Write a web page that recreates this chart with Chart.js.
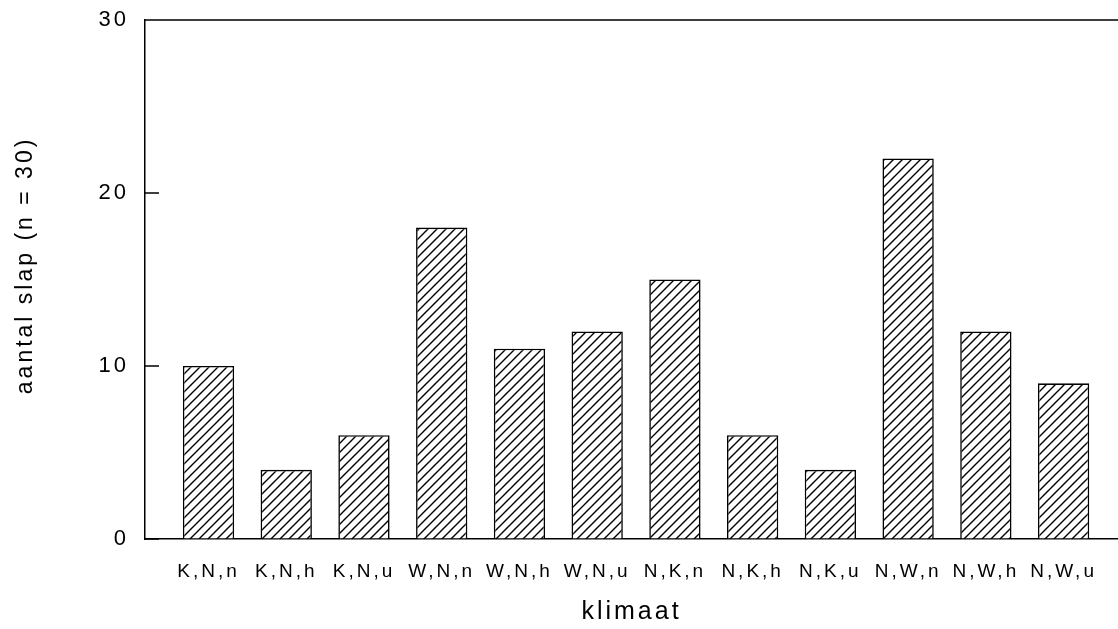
<!DOCTYPE html>
<html><head><meta charset="utf-8">
<script src="https://cdn.jsdelivr.net/npm/chart.js@4"></script>
<style>html,body{margin:0;padding:0;background:#fff}#wrap{width:1118px;height:629px}</style>
</head><body><div id="wrap"><canvas id="c" width="1118" height="629"></canvas></div>
<script>
const categories = ['K,N,n','K,N,h','K,N,u','W,N,n','W,N,h','W,N,u','N,K,n','N,K,h','N,K,u','N,W,n','N,W,h','N,W,u'];
const counts = [10,4,6,18,11,12,15,6,4,22,12,9];
const yTicks = [0,10,20,30];
const xTitle = 'klimaat';
const yTitle = '   aantal slap (n = 30)';

const canvas = document.getElementById('c');
const mainCtx = canvas.getContext('2d');
function hatch(){
  const s = 9;
  const c = document.createElement('canvas'); c.width = s; c.height = s;
  const g = c.getContext('2d');
  g.fillStyle = '#fff'; g.fillRect(0,0,s,s);
  g.strokeStyle = '#000'; g.lineWidth = 1.4;
  g.beginPath();
  g.moveTo(-1, s+1); g.lineTo(s+1, -1);
  g.moveTo(-1, 1); g.lineTo(1, -1);
  g.moveTo(s-1, s+1); g.lineTo(s+1, s-1);
  g.stroke();
  return mainCtx.createPattern(c, 'repeat');
}
const spacing = {
  id: 'spacing',
  beforeUpdate(chart){ chart.ctx.letterSpacing = '3px'; },
  beforeDraw(chart){ chart.ctx.letterSpacing = '3px'; }
};
const frame = {
  id: 'frame',
  afterDraw(chart){
    const {ctx, chartArea: a, scales: {y}} = chart;
    ctx.save();
    ctx.strokeStyle = '#000'; ctx.lineWidth = 1.5;
    ctx.beginPath();
    ctx.moveTo(a.left, a.top); ctx.lineTo(a.right, a.top);
    for (const t of yTicks) {
      const py = y.getPixelForValue(t);
      ctx.moveTo(a.left, py); ctx.lineTo(a.left + 14, py);
    }
    ctx.stroke();
    ctx.restore();
  }
};
const FONT = 'Liberation Sans';
new Chart(canvas, {
  type: 'bar',
  data: { datasets: [{
    data: counts.map((v, i) => ({x: i, y: v})),
    backgroundColor: hatch(), borderColor: '#000', borderWidth: 1.6,
    categoryPercentage: 1, barPercentage: 0.66
  }]},
  options: {
    responsive: false, animation: false, devicePixelRatio: 1,
    layout: {padding: {top: 20, right: 0, left: 0, bottom: 0}},
    plugins: {legend: {display: false}, tooltip: {enabled: false}},
    scales: {
      x: {
        type: 'linear', min: -0.817, max: 11.70, offset: false,
        grid: {display: false, drawTicks: false},
        border: {color: '#000', width: 1.5},
        ticks: {stepSize: 1, includeBounds: false, autoSkip: false, maxRotation: 0, padding: 21,
          color: '#000', font: {family: FONT, size: 19},
          callback: (v) => categories[v] ?? ''},
        title: {display: true, text: xTitle, color: '#000', font: {family: FONT, size: 25}, padding: {top: 0, bottom: 2}},
        afterFit: (s) => { s.height = 90; }
      },
      y: {
        min: 0, max: 30,
        grid: {display: true, drawOnChartArea: false, drawTicks: true, tickLength: 16, color: 'rgba(0,0,0,0)', tickColor: 'rgba(0,0,0,0)'},
        border: {color: '#000', width: 1.5},
        ticks: {stepSize: 10, padding: 0, color: '#000', font: {family: FONT, size: 22}},
        title: {display: true, text: yTitle, color: '#000', font: {family: FONT, size: 23}, padding: {top: 12, bottom: 0}},
        afterFit: (s) => { s.width = 145; }
      }
    }
  },
  plugins: [spacing, frame]
});
</script>
</body></html>
